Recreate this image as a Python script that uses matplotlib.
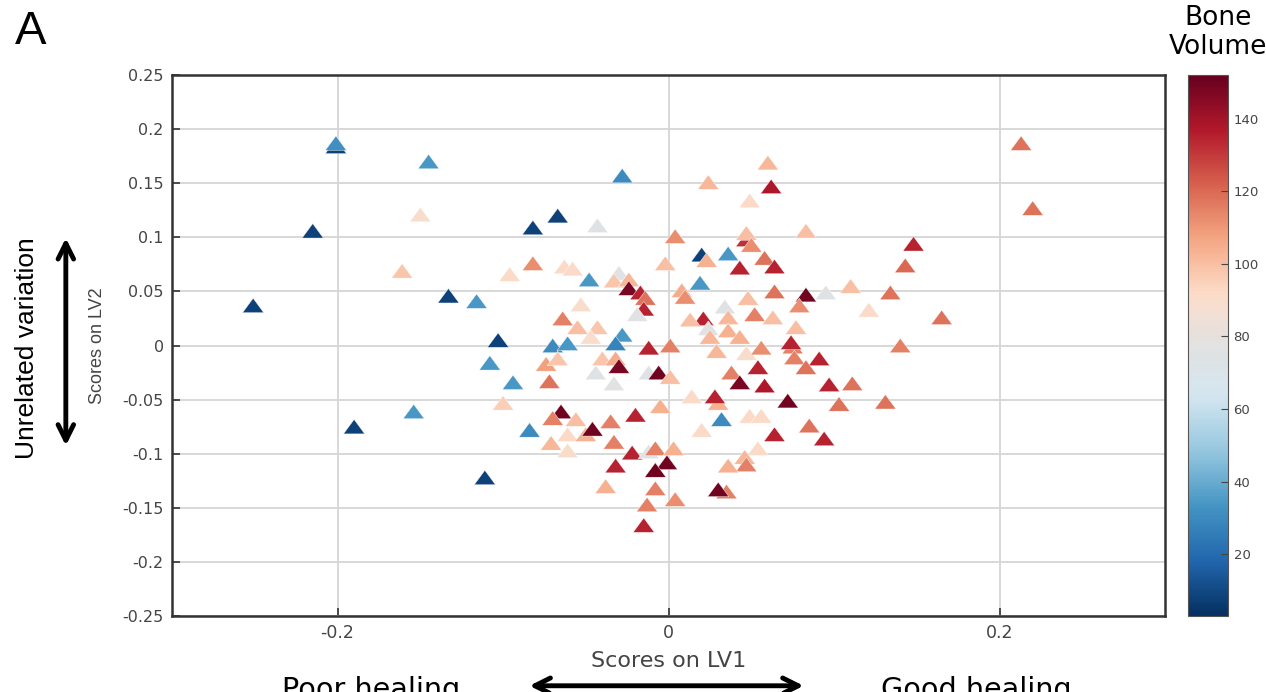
'''
PLS scores plot (LV1 vs LV2), coloured by bone volume
'''

import numpy as np
import matplotlib
matplotlib.use('Agg')
import matplotlib.pyplot as plt
from matplotlib.colors import ListedColormap

'''
--------------------> DATA <----------------------------
'''

# scores on LV1 / LV2 and bone volume
lv1 = [-0.251, -0.201, -0.201, -0.215, -0.145, -0.150, -0.161, -0.190, -0.154, -0.133,
       -0.116, -0.103, -0.108, -0.094, -0.111, -0.096, -0.100, -0.084, -0.082, -0.067,
       -0.082, -0.043, -0.028, -0.048, -0.063, -0.058, -0.070, -0.061, 0.004, -0.002,
       -0.030, -0.033, -0.024, -0.024, -0.017, -0.014, -0.015, -0.019, 0.008, 0.010,
       -0.053, -0.064, -0.055, -0.043, -0.047, -0.028, -0.032, -0.012, 0.001, -0.074,
       -0.067, -0.040, -0.032, -0.030, -0.044, -0.012, -0.006, 0.001, -0.072, -0.033,
       0.047, 0.047, 0.083, 0.050, 0.020, 0.023, 0.036, 0.058, 0.064, 0.043,
       0.148, 0.143, 0.019, 0.064, 0.083, 0.079, 0.095, 0.110, 0.134, 0.121,
       0.048, 0.034, 0.036, 0.052, 0.063, 0.021, 0.013, 0.024, 0.036, 0.025,
       0.043, 0.077, 0.075, 0.074, 0.029, 0.047, 0.056, 0.076, 0.091, 0.083,
       0.140, 0.054, 0.038, 0.043, 0.058, 0.097, 0.111, -0.065, -0.070, -0.056,
       -0.035, -0.020, -0.005, 0.014, 0.030, 0.028, 0.072, 0.103, 0.131, 0.032,
       0.049, 0.056, -0.061, -0.071, -0.061, -0.050, -0.046, -0.033, 0.020, 0.064,
       0.085, 0.094, 0.054, 0.046, 0.047, 0.036, -0.022, -0.012, -0.008, 0.003,
       -0.001, -0.032, -0.008, -0.038, -0.008, 0.035, 0.030, -0.013, 0.004, -0.015,
       0.213, 0.220, 0.060, 0.062, 0.024, 0.049, 0.165]

lv2 = [0.037, 0.184, 0.187, 0.106, 0.170, 0.121, 0.069, -0.075, -0.061, 0.046,
       0.041, 0.005, -0.016, -0.034, -0.122, 0.066, -0.053, -0.078, 0.109, 0.120,
       0.076, 0.111, 0.157, 0.061, 0.073, 0.071, 0.000, 0.002, 0.101, 0.076,
       0.067, 0.060, 0.061, 0.053, 0.049, 0.044, 0.034, 0.029, 0.051, 0.045,
       0.038, 0.025, 0.017, 0.017, 0.008, 0.010, 0.002, -0.002, 0.000, -0.017,
       -0.012, -0.012, -0.012, -0.019, -0.025, -0.025, -0.025, -0.029, -0.033, -0.035,
       0.098, 0.104, 0.106, 0.093, 0.084, 0.079, 0.085, 0.081, 0.073, 0.072,
       0.094, 0.074, 0.058, 0.050, 0.047, 0.037, 0.049, 0.055, 0.049, 0.033,
       0.044, 0.036, 0.026, 0.029, 0.026, 0.025, 0.024, 0.016, 0.014, 0.008,
       0.008, 0.017, -0.001, 0.003, -0.005, -0.007, -0.002, -0.011, -0.012, -0.020,
       0.000, -0.020, -0.025, -0.034, -0.037, -0.036, -0.035, -0.061, -0.067, -0.068,
       -0.070, -0.064, -0.056, -0.047, -0.053, -0.047, -0.051, -0.054, -0.052, -0.068,
       -0.065, -0.065, -0.082, -0.090, -0.097, -0.082, -0.077, -0.089, -0.078, -0.082,
       -0.074, -0.086, -0.095, -0.103, -0.110, -0.111, -0.099, -0.098, -0.095, -0.095,
       -0.108, -0.111, -0.115, -0.130, -0.132, -0.135, -0.133, -0.147, -0.142, -0.166,
       0.187, 0.127, 0.169, 0.147, 0.151, 0.134, 0.026]

bone_volume = [8, 8, 32, 8, 34, 90, 98, 8, 34, 8,
               34, 8, 34, 34, 8, 92, 96, 30, 8, 8,
               112, 75, 30, 34, 92, 92, 30, 34, 112, 100,
               76, 98, 102, 148, 135, 118, 135, 76, 105, 112,
               90, 115, 100, 98, 90, 34, 28, 135, 115, 108,
               98, 98, 105, 148, 75, 76, 150, 100, 118, 76,
               132, 100, 100, 112, 8, 104, 34, 118, 135, 135,
               135, 120, 34, 118, 150, 112, 75, 100, 118, 92,
               100, 75, 102, 115, 100, 135, 100, 76, 104, 102,
               104, 100, 115, 135, 102, 90, 112, 115, 135, 118,
               115, 135, 115, 148, 138, 135, 118, 150, 115, 100,
               115, 135, 104, 92, 104, 135, 150, 118, 118, 30,
               92, 92, 92, 102, 90, 104, 150, 115, 92, 135,
               118, 135, 92, 102, 115, 104, 135, 76, 115, 104,
               150, 135, 150, 104, 115, 115, 150, 115, 112, 135,
               118, 118, 102, 138, 102, 92, 118]

xticks = [-0.2, 0, 0.2]
xticklabels = ['-0.2', '0', '0.2']
yticks = [-0.25, -0.2, -0.15, -0.1, -0.05, 0, 0.05, 0.1, 0.15, 0.2, 0.25]
yticklabels = ['-0.25', '-0.2', '-0.15', '-0.1', '-0.05', '0', '0.05', '0.1', '0.15', '0.2', '0.25']
cbar_ticks = [20, 40, 60, 80, 100, 120, 140]

'''
--------------------> PARAMETERS <----------------------------
'''

bv_min = 3
bv_max = 152
tick_color = '#444444'
grid_color = '#d6d6d6'
wide = ['DejaVu Sans']
plain = ['Liberation Sans', 'DejaVu Sans']

# flattened triangle, wider than tall
tri = [(0, 0.68), (-1, -0.68), (1, -0.68), (0, 0.68)]

# RdBu_r with a slightly greyed centre, like the original colour bar
base = plt.get_cmap('RdBu_r')(np.linspace(0, 1, 256))
t = np.linspace(0, 1, 256)
shade = 1 - 0.08 * np.exp(-((t - 0.5) / 0.06) ** 2)
base[:, :3] = base[:, :3] * shade[:, None]
cmap = ListedColormap(base)

'''
--------------------> PLOT <----------------------------
'''

fig = plt.figure(figsize=(12.66, 6.92), dpi=100)
ax = fig.add_axes([0.1359, 0.1098, 0.7844, 0.7818])

sc = ax.scatter(lv1, lv2, c=bone_volume, cmap=cmap, vmin=bv_min, vmax=bv_max,
                marker=tri, s=235, edgecolors='white', linewidths=0.3, zorder=3)

ax.set_xlim(-0.3, 0.3)
ax.set_ylim(-0.25, 0.25)
ax.set_xticks(xticks)
ax.set_xticklabels(xticklabels, family=wide, fontsize=12.5, color=tick_color)
ax.set_yticks(yticks)
ax.set_yticklabels(yticklabels, family=wide, fontsize=11.5, color=tick_color)
ax.tick_params(direction='in', length=6, width=1.2, color='#333333', pad=6)
ax.grid(True, color=grid_color, lw=1.3, zorder=0)
ax.set_axisbelow(True)
for sp in ax.spines.values():
    sp.set_linewidth(1.8)
    sp.set_color('#333333')

ax.set_xlabel('Scores on LV1', family=wide, fontsize=16, color=tick_color, labelpad=6)
ax.set_ylabel('Scores on LV2', family=plain, fontsize=13, color=tick_color, labelpad=12)

# colourbar
cax = fig.add_axes([0.9384, 0.1098, 0.0316, 0.7818])
cb = fig.colorbar(sc, cax=cax, ticks=cbar_ticks)
cb.outline.set_linewidth(0.8)
cb.outline.set_edgecolor('#555555')
cax.tick_params(direction='in', length=5, width=0.8, color='#444444', labelsize=9.5,
                labelcolor=tick_color, pad=4)
for lab in cax.get_yticklabels():
    lab.set_family(wide)
fig.text(0.962, 0.993, 'Bone\nVolume', ha='center', va='top', fontsize=19,
         family=wide, linespacing=1.15)

# panel letter
fig.text(0.012, 0.985, 'A', ha='left', va='top', fontsize=34, family=plain)

# side annotations
fig.text(0.021, 0.497, 'Unrelated variation', rotation=90, ha='center', va='center',
         fontsize=19, family=plain)
ax.annotate('', xy=(0.052, 0.352), xytext=(0.052, 0.66), xycoords='figure fraction',
            textcoords='figure fraction',
            arrowprops=dict(arrowstyle='<->', lw=3.5, mutation_scale=28, color='black'))

fig.text(0.2935, -0.008, 'Poor healing', ha='center', va='baseline', fontsize=20.6, family=wide)
fig.text(0.7713, -0.008, 'Good healing', ha='center', va='baseline', fontsize=20.6, family=wide)
ax.annotate('', xy=(0.416, 0.009), xytext=(0.637, 0.009), xycoords='figure fraction',
            textcoords='figure fraction',
            arrowprops=dict(arrowstyle='<->', lw=3.5, mutation_scale=28, color='black'))

plt.savefig('out.png', dpi=100)
